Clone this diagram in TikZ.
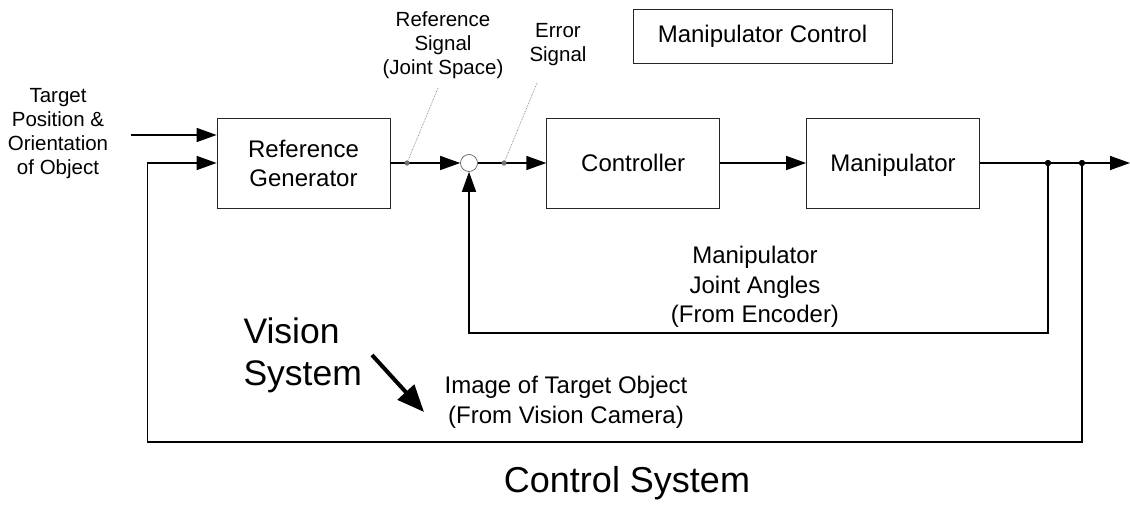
\documentclass[tikz,border=0pt]{standalone}
\usepackage{fontspec}
\setmainfont{Liberation Sans}
\usetikzlibrary{arrows.meta, positioning}
\tikzset{block/.style={draw=black!85, line width=0.8pt, minimum width=173pt,
                       minimum height=90pt, align=center,
                       font=\fontsize{24}{29}\selectfont},
         oneline/.style={text height=18pt, text depth=0pt},
         sumjunc/.style={draw=black!70, circle, line width=0.6pt,
                         minimum size=17pt, inner sep=0pt},
         signal/.style={line width=1.5pt, -{Triangle[length=20pt,width=14pt]}},
         sigtext/.style={align=center, font=\fontsize{20.5}{24}\selectfont},
         midtext/.style={align=center, font=\fontsize{24}{29.5}\selectfont},
         bigtext/.style={align=left, font=\fontsize{35.5}{42}\selectfont},
         leader/.style={black!50, densely dotted, line width=0.7pt},
         tapdot/.style={circle, fill=black!55, inner sep=0pt, minimum size=5pt},
         joint/.style={circle, fill=black, inner sep=0pt, minimum size=6pt}}

\begin{document}
\begin{tikzpicture}[x=1pt, y=-1pt]
\useasboundingbox (0,0) rectangle (1130,505);

% blocks
\node[block] (refgen) at (303.5,163) {Reference\\Generator};
\node[sumjunc] (sum) at (469,163) {};
\node[block, oneline, right=68.5pt of sum] (ctrl) {Controller};
\node[block, oneline, right=86pt of ctrl] (manip) {Manipulator};
\node[block, minimum width=259pt, minimum height=54pt] (mctrl)
    at (762.5,36) {Manipulator Control};

% signal points
\node[tapdot] (tapref) at (407,163) {};
\node[tapdot] (taperr) at (504,163) {};
\node[joint] (j1) at (1048,163) {};
\node[joint] (j2) at (1082,163) {};
\coordinate (out) at (1130,163);
\coordinate (tgtin) at (131,135);

% labels
\node[sigtext] (target) at (58,133.5) {Target\\Position \&\\Orientation\\of Object};
\node[sigtext] (refsig) at (443,45) {Reference\\Signal\\(Joint Space)};
\node[sigtext] (errsig) at (558,45) {Error\\Signal};
\node[midtext] (encoder) at (755,287) {Manipulator\\Joint Angles\\(From Encoder)};
\node[midtext] (camera) at (566,402.5) {Image of Target Object\\(From Vision Camera)};
\node[bigtext, anchor=west] (vision) at (240,355) {Vision\\System};
\node[font=\fontsize{36}{42}\selectfont] (ctrlsys) at (627,483) {Control System};
\coordinate (refend) at (438,88);
\coordinate (errend) at (537,83);
\coordinate (vsa) at (372,355);
\coordinate (vsb) at (424,412);

% forward path
\draw[signal] (tgtin) -- (tgtin -| refgen.west);
\draw[signal] (refgen.east) -- (sum.west);
\draw[signal] (sum.east) -- (ctrl.west);
\draw[signal] (ctrl.east) -- (manip.west);
\draw[signal] (manip.east) -- (out);

% feedback loops
\draw[signal] (j1) -- ++(0,170) -| (sum.south);
\draw[signal] (j2) -- ++(0,279) -| ([xshift=-69pt]refgen.west) -- (refgen.west);

% leaders and dots on top
\draw[leader] (refend) -- (tapref);
\draw[leader] (errend) -- (taperr);
\node[tapdot] at (tapref) {};
\node[tapdot] at (taperr) {};
\node[joint] at (j1) {};
\node[joint] at (j2) {};

\draw[line width=4pt, -{Triangle[length=27pt,width=22pt]}] (vsa) -- (vsb);
\end{tikzpicture}
\end{document}
